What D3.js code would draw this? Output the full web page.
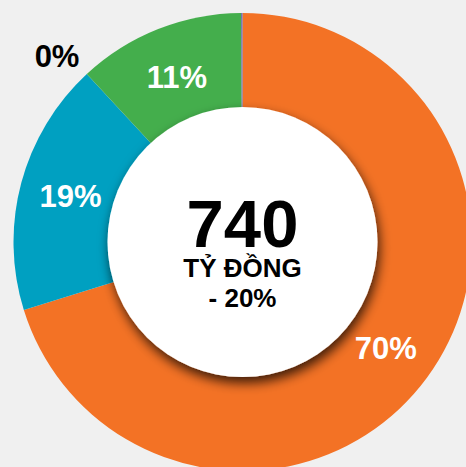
<!DOCTYPE html>
<html>
<head>
<meta charset="utf-8">
<script src="https://cdn.jsdelivr.net/npm/d3@7"></script>
<style>
  html, body { margin: 0; padding: 0; background: #f0f0f0; }
  svg { display: block; }
  text { font-family: "Liberation Sans", Arial, sans-serif; font-weight: bold; }
</style>
</head>
<body>
<div id="chart"></div>
<script>
// chart values (share of total)
const segments = ['A', 'B', 'C', 'D'];
const shares = [70.2, 17.9, 11.8, 0.1];
const labels = ['70%', '19%', '11%', '0%'];
const colors = ['#f37225', '#00a0c1', '#44ae4c', '#6b6bab'];

// centre text
const totalValue = '740';
const totalUnit = 'TỶ ĐỒNG';
const totalChange = '- 20%';

const width = 466, height = 467;
const cx = 242.5, cy = 242;
const outerR = 229, innerR = 135;

const svg = d3.select('#chart').append('svg')
    .attr('width', width)
    .attr('height', height);

// shadow under the white hole
const defs = svg.append('defs');
const filter = defs.append('filter')
    .attr('id', 'holeShadow')
    .attr('x', '-30%').attr('y', '-30%')
    .attr('width', '160%').attr('height', '160%');
filter.append('feDropShadow')
    .attr('dx', 2).attr('dy', 6)
    .attr('stdDeviation', 6)
    .attr('flood-color', '#000')
    .attr('flood-opacity', 0.75);

const plot = svg.append('g')
    .attr('transform', `translate(${cx},${cy})`);

const data = segments.map((d, i) => ({key: d, value: shares[i], label: labels[i], color: colors[i]}));

const pie = d3.pie()
    .sort(null)
    .value(d => d.value);

const arc = d3.arc()
    .innerRadius(0)
    .outerRadius(outerR);

const labelArc = d3.arc()
    .innerRadius(178)
    .outerRadius(178);

const arcs = pie(data);

plot.selectAll('.slice')
    .data(arcs)
    .enter()
    .append('path')
    .attr('class', 'slice')
    .attr('d', arc)
    .attr('fill', d => d.data.color);

// white hole with shadow
plot.append('circle')
    .attr('r', innerR)
    .attr('fill', '#fff')
    .attr('filter', 'url(#holeShadow)');

// slice labels
plot.selectAll('.lbl')
    .data(arcs.filter(d => d.data.value >= 1))
    .enter()
    .append('text')
    .attr('class', 'lbl')
    .attr('transform', d => `translate(${labelArc.centroid(d)})`)
    .attr('text-anchor', 'middle')
    .attr('dy', '0.36em')
    .attr('font-size', 31)
    .attr('fill', '#fff')
    .text(d => d.data.label);

// tiny slice label sits outside, next to the green slice start
const tiny = arcs.filter(d => d.data.value < 1);
const outsideArc = d3.arc().innerRadius(outerR + 34).outerRadius(outerR + 34);
plot.selectAll('.lbl-out')
    .data(tiny)
    .enter()
    .append('text')
    .attr('class', 'lbl-out')
    .attr('transform', () => {
        const a = arcs[2].startAngle - 0.035;
        return `translate(${outsideArc.centroid({startAngle: a, endAngle: a})})`;
    })
    .attr('text-anchor', 'middle')
    .attr('dy', '0.36em')
    .attr('font-size', 31)
    .attr('fill', '#000')
    .text(d => d.data.label);

// centre text
plot.append('text')
    .attr('text-anchor', 'middle')
    .attr('y', 5)
    .attr('font-size', 67)
    .attr('fill', '#000')
    .text(totalValue);

plot.append('text')
    .attr('text-anchor', 'middle')
    .attr('y', 35)
    .attr('font-size', 26)
    .attr('fill', '#000')
    .text(totalUnit);

plot.append('text')
    .attr('text-anchor', 'middle')
    .attr('y', 65)
    .attr('font-size', 26)
    .attr('fill', '#000')
    .text(totalChange);
</script>
</body>
</html>
